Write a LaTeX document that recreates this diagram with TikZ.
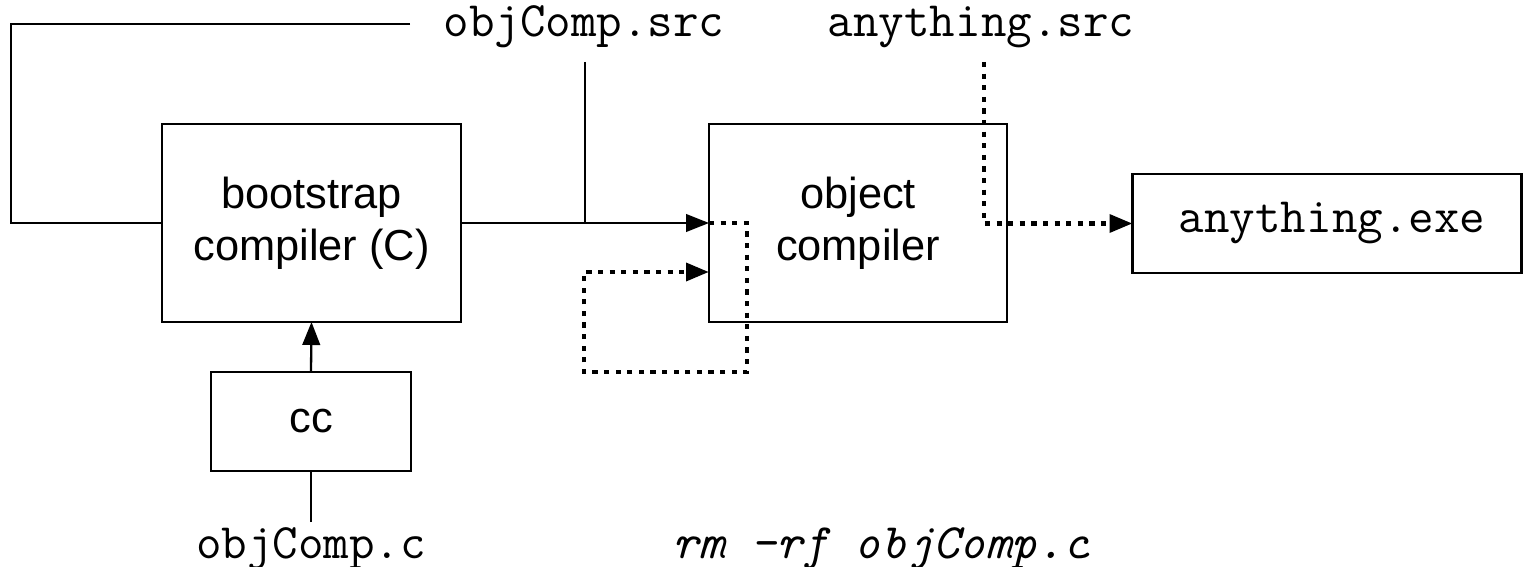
\documentclass[tikz,border=0pt]{standalone}
\usepackage{fontspec}
\setmainfont{Liberation Sans}
\usetikzlibrary{arrows.meta,calc}
\begin{document}
\begin{tikzpicture}[x=0.5pt,y=-0.5pt,
  line width=1.15pt,
  box/.style={draw,rectangle,outer sep=0pt,inner sep=0pt,align=center,
    font=\fontsize{21.7}{26}\selectfont},
  codefont/.style={font=\ttfamily\fontsize{24.8}{26}\selectfont},
  codetext/.style={codefont,inner sep=0pt,anchor=base},
  arr/.style={-{Triangle[length=11.5pt,width=8.8pt]}},
  dotline/.style={line width=2.3pt,dash pattern=on 2.6pt off 3.2pt,line cap=butt}]
\useasboundingbox (0,0) rectangle (1525,567);

% boxes
\node[box,minimum width=299*0.5pt,minimum height=198*0.5pt] (boot) at (311.5,223) {bootstrap\\compiler (C)};
\node[box,minimum width=298*0.5pt,minimum height=198*0.5pt] (obj) at (858,223) {object\\compiler};
\node[box,codefont,minimum width=389*0.5pt,minimum height=99*0.5pt] (exe) at (1327,223.5) {\hspace*{5pt}anything.exe};
\node[box,minimum width=200*0.5pt,minimum height=99*0.5pt] (cc) at (311,421.5) {cc};

% file names
\node[codetext] (src) at (584,37) {objComp.src};
\node[codetext] (asrc) at (981,37) {anything.src};
\node[codetext] (csrc) at (311,558) {objComp.c};
\node[codetext,font=\ttfamily\itshape\fontsize{24.8}{26}\selectfont] (rm) at (881,558) {rm -rf objComp.c};

% free ends of the connectors
\coordinate (loopEnd) at (410,24);
\coordinate (loopLeft) at (11,223);
\coordinate (srcTop) at (585,62);
\coordinate (asrcTop) at (984,62);
\coordinate (cIn) at (311,522);
\coordinate (rmR) at (747,372);
\coordinate (rmL) at (584,372);

% solid connectors
\draw (loopEnd) -| (loopLeft) -- (boot.west);
\draw[arr] (boot.east) -- (obj.west);
\draw (srcTop) -- (srcTop |- boot.east);
\draw[arr] (cc.north) -- (boot.south);
\draw (cIn) -- (cc.south);

% dotted connectors
\draw[dotline,arr] (asrcTop) |- (exe.west);
\draw[dotline,arr] (obj.west) -| (rmR) -- (rmL) |- ($(obj.west)+(0,49)$);
\end{tikzpicture}
\end{document}
